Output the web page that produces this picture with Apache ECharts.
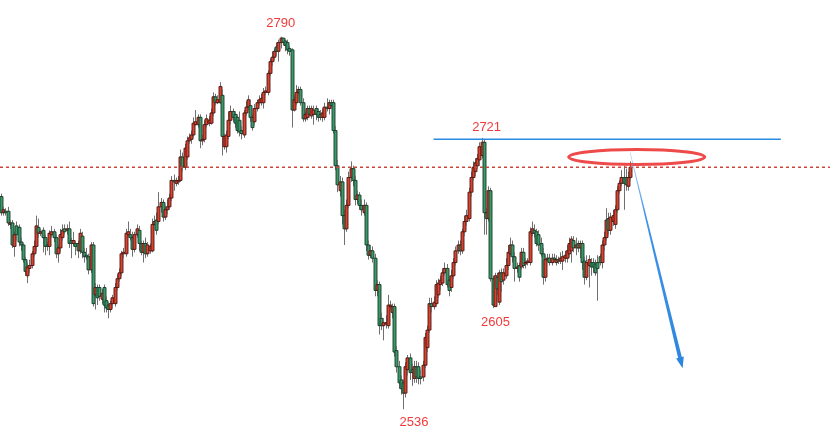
<!DOCTYPE html>
<html><head><meta charset="utf-8">
<script src="https://cdn.jsdelivr.net/npm/echarts@6/dist/echarts.min.js"></script>
<style>html,body{margin:0;padding:0;background:#fff;overflow:hidden}#c{width:830px;height:443px}</style>
</head><body><div id="c"></div>
<script>
const opens=[2681,2670,2671,2671,2662,2663,2647,2661,2660,2650,
2648,2638,2627,2632,2634,2642,2647,2660,2656,2658,
2653,2648,2647,2655,2657,2653,2642,2646,2653,2659,
2658,2659,2651,2649,2649,2649,2644,2654,2643,2641,
2640,2631,2648,2614,2619,2619,2611,2619,2610,2607,
2604,2608,2608,2619,2625,2629,2642,2642,2655,2655,
2653,2645,2655,
2658,2649,2643,2649,2642,2644,2644,
2662,2665,2664,2674,2677,2667,2672,2674,2680,2692,
2690,2691,2692,2708,2701,2708,2719,2720,2723,2730,
2730,2735,2719,2720,2730,2731,2731,2738,2749,2745,
2745,2750,2715,2715,2722,2733,2739,2737,2735,2733,
2726,2723,2738,2742,
2743,2735,2732,2741,2745,2745,
2745,2752,2752,2765,2773,2776,2783,2780,2786,2789,
2787,2786,2782,2781,2740,2745,2752,2754,2745,2734,
2735,2741,2736,2737,2741,2739,2737,2735,2735,2742,
2741,2745,2745,
2726,2702,2685,2691,2668,2659,2675,
2694,2700,2692,2679,2682,2675,2670,2675,2648,2641,
2644,2639,2617,
2621,2598,2593,2594,2593,2606,2602,
2606,2576,2565,2556,2554,2547,2563,2571,2563,2557,
2565,2565,2558,2558,2566,2578,2590,2608,2606,2608,
2614,2621,2622,2629,2632,2624,2619,2627,2636,2644,
2648,2644,2657,2664,
2666,2684,2694,2698,2702,2706,
2709,2718,2670,2666,2685,2625,2606,2626,2609,2629,
2624,2627,2634,2642,2648,2640,2632,2634,2633,2643,
2635,2636,2636,2656,2658,2657,2655,2649,2642,2626,
2638,2639,2636,2639,2636,2638,
2637,2637,2639,2639,
2642,2644,2651,2646,2649,2646,2649,2637,2626,2634,
2636,2636,2635,2636,2640,2636,2648,2653,2666,2658,
2664,2662,2672,2685,2690,2694,2694,2688,2694];
const closes=[2670,2672,2670,2663,2663,2648,2655,2655,2650,2648,
2638,2630,2633,2634,2642,2647,2661,2656,2657,2653,
2647,2647,2656,2657,2653,2642,2646,2655,2658,2657,
2659,2649,2649,2651,2647,2644,2656,2643,2640,2640,
2631,2648,2608,2619,2612,2613,2615,2607,2605,2604,
2608,2612,2619,2625,2629,2642,2643,2656,2657,2653,
2645,2655,2659,
2649,2643,2649,2642,2648,2647,2662,
2664,2658,2674,2677,2667,2672,2674,2680,2692,2691,
2692,2692,2708,2701,2714,2719,2721,2723,2731,2732,
2735,2719,2720,2730,2734,2733,2738,2749,2745,2747,
2756,2722,2722,2723,2733,2739,2735,2731,2726,2725,
2724,2738,2742,2747,
2735,2728,2741,2745,2747,2748,
2752,2753,2765,2773,2776,2780,2780,2786,2789,2786,
2784,2781,2780,2740,2747,2752,2754,2745,2734,2737,
2741,2737,2741,2740,2737,2735,2735,2738,2742,2741,
2745,2743,2726,
2702,2689,2691,2668,2659,2675,2694,
2700,2692,2679,2682,2675,2672,2675,2648,2641,2644,
2639,2617,2621,
2593,2593,2595,2595,2607,2607,2606,
2575,2565,2554,2550,2547,2565,2571,2561,2561,2565,
2558,2557,2557,2566,2585,2590,2608,2606,2609,2621,
2622,2624,2629,2632,2621,2617,2627,2636,2644,2648,
2644,2657,2664,2668,
2684,2694,2701,2704,2707,2715,
2718,2670,2666,2685,2625,2607,2627,2618,2629,2623,
2629,2634,2643,2648,2640,2632,2633,2626,2643,2634,
2636,2637,2657,2659,2656,2649,2648,2642,2626,2638,
2639,2636,2639,2638,2638,2637,
2639,2640,2641,2644,
2649,2652,2646,2648,2646,2649,2636,2626,2636,2638,
2633,2633,2629,2632,2636,2648,2653,2665,2658,2667,
2668,2672,2685,2690,2694,2690,2689,2694,2701];
const lows=[2668,2668,2668,2661,2659,2646,2640,2651,2647,2644,
2636,2627,2622,2629,2632,2640,2644,2653,2654,2643,
2641,2644,2641,2653,2650,2639,2636,2643,2651,2655,
2655,2646,2639,2647,2641,2639,2642,2639,2636,2638,
2628,2629,2606,2604,2607,2610,2608,2602,2602,2598,
2602,2605,2606,2617,2623,2627,2639,2640,2653,2651,
2640,2643,2653,
2644,2641,2636,2639,2640,2642,2643,
2661,2655,2662,2670,2664,2665,2669,2672,2678,2685,
2688,2689,2691,2698,2699,2706,2717,2717,2721,2729,
2728,2714,2716,2718,2728,2729,2730,2736,2743,2744,
2744,2709,2713,2711,2720,2730,2732,2728,2724,2722,
2720,2721,2736,2740,
2732,2726,2730,2739,2743,2743,
2741,2750,2750,2763,2770,2774,2777,2773,2782,2784,
2780,2778,2777,2728,2739,2743,2750,2743,2732,2732,
2733,2735,2734,2730,2733,2732,2733,2732,2733,2739,
2737,2741,2724,
2699,2684,2681,2662,2648,2657,2673,
2691,2688,2675,2676,2672,2668,2668,2644,2638,2639,
2636,2613,2613,
2587,2590,2583,2591,2591,2604,2598,
2572,2561,2550,2546,2536,2544,2559,2556,2552,2554,
2554,2553,2553,2555,2564,2575,2588,2602,2604,2606,
2612,2617,2620,2627,2619,2613,2616,2625,2634,2642,
2641,2642,2654,2661,
2664,2681,2692,2695,2700,2702,
2707,2655,2655,2664,2623,2605,2606,2614,2607,2616,
2621,2625,2631,2640,2636,2623,2629,2623,2631,2632,
2632,2634,2634,2654,2653,2647,2644,2640,2621,2623,
2636,2634,2634,2636,2634,2635,
2635,2631,2636,2636,
2640,2636,2643,2641,2643,2639,2631,2621,2624,2619,
2627,2629,2627,2610,2634,2632,2644,2651,2655,2655,
2661,2659,2670,2683,2688,2672,2685,2685,2692];
const highs=[2683,2674,2673,2674,2665,2665,2657,2664,2662,2653,
2649,2640,2636,2638,2644,2651,2668,2666,2659,2660,
2655,2650,2658,2661,2659,2655,2648,2659,2662,2662,
2662,2664,2653,2657,2651,2651,2659,2657,2646,2646,
2642,2650,2650,2622,2621,2621,2618,2621,2613,2609,
2610,2614,2622,2628,2632,2644,2646,2659,2664,2659,
2657,2657,2662,
2661,2651,2651,2653,2650,2649,2666,
2668,2670,2684,2680,2679,2675,2679,2683,2695,2696,
2694,2695,2713,2711,2717,2722,2724,2726,2735,2740,
2737,2737,2723,2733,2737,2736,2741,2752,2751,2750,
2759,2754,2724,2726,2739,2743,2741,2739,2737,2739,
2729,2740,2746,2750,
2747,2737,2744,2747,2750,2751,
2755,2756,2767,2775,2780,2782,2786,2788,2790,2789,
2788,2788,2784,2782,2750,2757,2756,2756,2748,2739,
2743,2743,2743,2743,2743,2741,2740,2741,2745,2748,
2747,2747,2747,
2729,2706,2695,2694,2672,2679,2698,
2705,2702,2695,2685,2684,2679,2679,2677,2651,2648,
2647,2642,2624,
2623,2602,2598,2600,2614,2610,2608,
2608,2579,2569,2559,2556,2568,2573,2574,2567,2569,
2569,2568,2563,2569,2588,2593,2612,2612,2613,2624,
2625,2627,2632,2636,2635,2627,2631,2639,2647,2651,
2651,2659,2668,2672,
2687,2698,2705,2707,2710,2718,
2721,2720,2673,2688,2687,2627,2629,2629,2631,2632,
2632,2639,2648,2653,2651,2643,2636,2636,2646,2646,
2639,2639,2660,2664,2662,2659,2658,2653,2646,2641,
2642,2642,2642,2642,2641,2640,
2643,2644,2644,2648,
2653,2654,2654,2653,2651,2651,2651,2640,2641,2641,
2639,2639,2638,2641,2642,2651,2657,2673,2670,2670,
2672,2675,2688,2692,2699,2702,2700,2698,2705];

// extreme-point labels: text, candle index, value
const labelTexts=['2790','2721','2605','2536'];
const labelIndex=[128,220,225,184];
const labelValues=[2790,2721,2605,2536];
const resistanceLevel=2720, resistanceStart=198, resistanceEnd=357;
const dottedLevel=2701;

const SLOTS=380;
const cats=[];for(let i=0;i<SLOTS;i++)cats.push(String(i));
const data=opens.map((o,i)=>[i,o,closes[i],lows[i],highs[i]]);

const chart=echarts.init(document.getElementById('c'),null,{renderer:'canvas'});
function renderItem(params,api){
  const i=api.value(0);
  const x=Math.round(api.coord([i,api.value(1)])[0])+0.5;
  const yo=api.coord([i,api.value(1)])[1];
  const yc=api.coord([i,api.value(2)])[1];
  const yl=api.coord([i,api.value(3)])[1];
  const yh=api.coord([i,api.value(4)])[1];
  const up=api.value(2)>=api.value(1);
  const top=Math.min(yo,yc),bot=Math.max(yo,yc);
  const w=3;
  return {type:'group',children:[
    {type:'line',shape:{x1:x,y1:yh,x2:x,y2:yl},style:{stroke:'#707070',lineWidth:1}},
    {type:'rect',shape:{x:x-w/2,y:top,width:w,height:Math.max(bot-top,1)},
     style:{fill:up?'#d9432f':'#3c9a6a',stroke:up?'#4a1612':'#163a28',lineWidth:0.9}}
  ]};
}
chart.setOption({
  animation:false,
  backgroundColor:'#ffffff',
  grid:{left:0,right:0,top:0,bottom:0},
  xAxis:{type:'category',data:cats,boundaryGap:true,show:false},
  yAxis:{type:'value',min:2513,max:2815,show:false,splitLine:{show:false}},
  series:[{type:'custom',renderItem:renderItem,data:data,encode:{x:0,y:[1,2,3,4]},clip:false}]
});

const px=(i,v)=>chart.convertToPixel({gridIndex:0},[i,v]);
const g=[];
// dotted level across the whole plot
const dY=px(0,dottedLevel)[1];
g.push({type:'line',shape:{x1:0,y1:dY,x2:830,y2:dY},z:5,
  style:{stroke:'#c8463a',lineWidth:1.3,lineDash:[3,3]}});
// resistance line
const r0=px(resistanceStart,resistanceLevel), r1=px(resistanceEnd,resistanceLevel);
g.push({type:'line',shape:{x1:r0[0],y1:r0[1],x2:r1[0],y2:r1[1]},z:5,
  style:{stroke:'#2b8ae2',lineWidth:1.5}});
// labels
const lblOff=[[0,-13],[5,-10],[3,14],[11,13]];
labelTexts.forEach((t,k)=>{
  const p=px(labelIndex[k],labelValues[k]);
  g.push({type:'text',x:p[0]+lblOff[k][0],y:p[1]+lblOff[k][1],
    style:{text:t,fill:'#f23a3a',font:'13px "Liberation Sans", Arial, sans-serif',align:'center',verticalAlign:'middle'},z:10});
});
// ellipse around latest top
const ec=px(291,2708);
g.push({type:'ellipse',shape:{cx:ec[0],cy:ec[1],rx:68,ry:7.5},
  style:{fill:'none',stroke:'#ee3b3b',lineWidth:3,opacity:0.92},z:10});
// arrow
const S=px(288,2711), E=px(312,2564);
const dx=E[0]-S[0], dy=E[1]-S[1], L=Math.hypot(dx,dy);
const ux=dx/L, uy=dy/L, nx=-uy, ny=ux;
const hl=11, hw=4, w0=0.6, w1=3.8;
const Bx=E[0]-ux*hl, By=E[1]-uy*hl;
const pts=[[S[0]+nx*w0/2,S[1]+ny*w0/2],[Bx+nx*w1/2,By+ny*w1/2],[Bx+nx*hw,By+ny*hw],[E[0],E[1]],
  [Bx-nx*hw,By-ny*hw],[Bx-nx*w1/2,By-ny*w1/2],[S[0]-nx*w0/2,S[1]-ny*w0/2]];
g.push({type:'polygon',shape:{points:pts},z:11,
  style:{fill:new echarts.graphic.LinearGradient(0,0,0,1,[{offset:0,color:'rgba(62,146,228,0.4)'},{offset:0.3,color:'rgba(55,142,228,0.95)'},{offset:1,color:'#2c86de'}])}});
chart.setOption({graphic:g});
</script></body></html>
